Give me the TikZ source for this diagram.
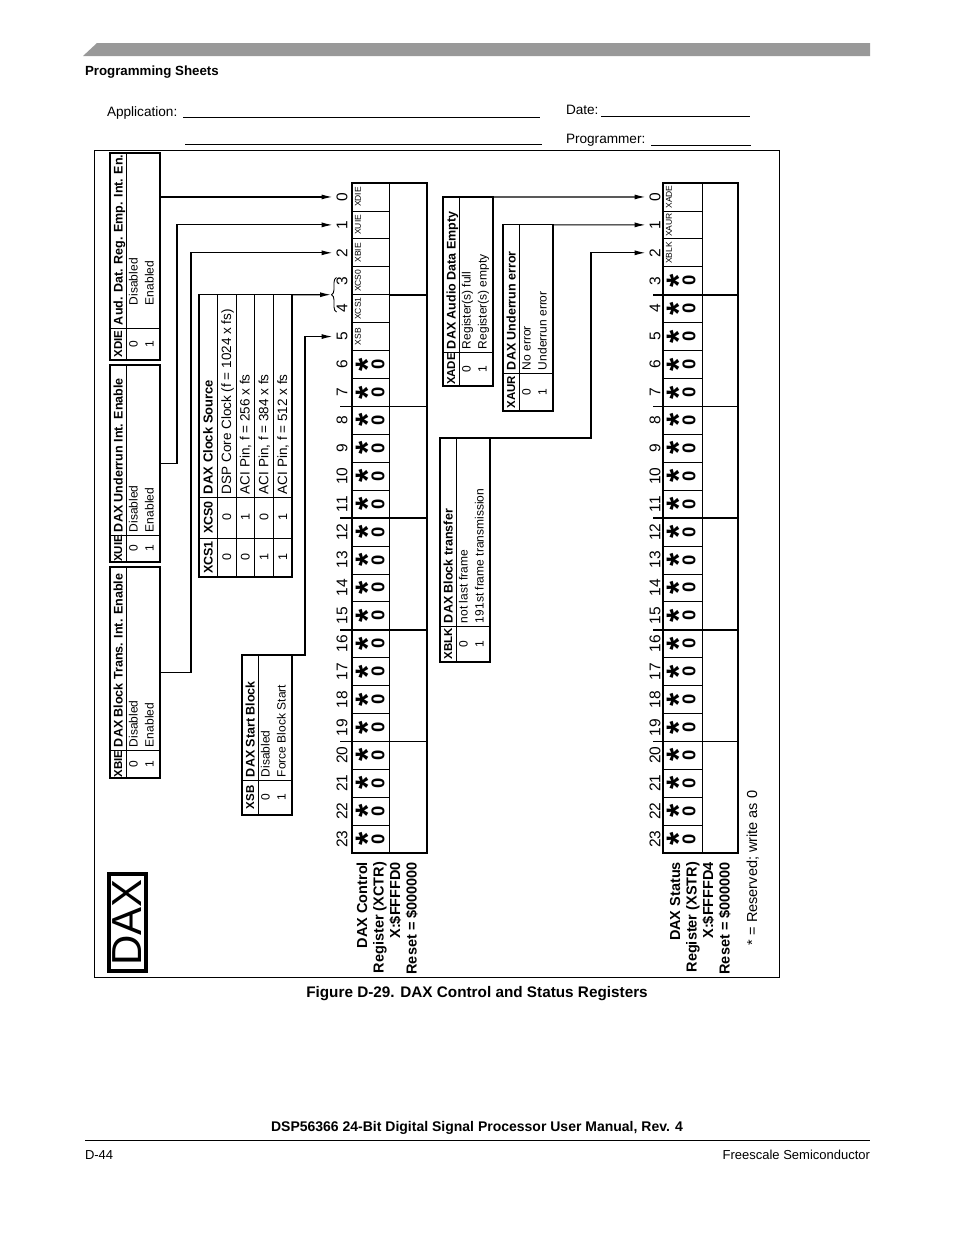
\documentclass[tikz,border=0pt]{standalone}
\usepackage{fontspec}
\setmainfont{Liberation Sans}
\usetikzlibrary{arrows.meta,decorations.pathreplacing}
\definecolor{bargray}{RGB}{153,153,153}
\newcommand{\myfs}[1]{\fontsize{#1}{#1}\selectfont}
\newcommand{\descgap}{3}
\tikzset{
  rt/.style={rotate=90, inner sep=0pt, outer sep=0pt},
  hdr/.style={rt, anchor=base west, font=\bfseries\myfs{12.5}},
  hdrc/.style={rt, anchor=base, font=\bfseries\myfs{11.5}},
  rowt/.style={rt, anchor=base west, font=\myfs{12}},
  rowc/.style={rt, anchor=base, font=\myfs{12}},
  tbl/.style={draw, line width=1.1pt, rectangle, inner sep=0pt, outer sep=0pt},
  tline/.style={line width=0.6pt},
  conn/.style={line width=1.2pt, -{Latex[length=11pt,width=5pt]}},
  bitnum/.style={rt, font=\myfs{15.5}},
  bitlab/.style={rt, font=\myfs{8.5}},
  resstar/.style={rt, anchor=base, font=\bfseries\myfs{34}},
  reszero/.style={rt, font=\bfseries\myfs{18.5}},
  reglab/.style={rt, anchor=base east, font=\bfseries\myfs{14.5}},
  cellline/.style={line width=0.7pt},
  boxline/.style={line width=1.3pt},
  groupline/.style={line width=1.7pt},
  plain/.style={inner sep=0pt, outer sep=0pt},
}
% name, L, T, B, split, bit, title, desc0, desc1
\newcommand{\bittable}[9]{%
  \node[tbl, minimum width=50pt, minimum height={(#4-#3)*1pt}] (#1) at ({#2+25},{(#3+#4)/2}) {};
  \draw[tline] ({#2+16},#3) -- ({#2+16},#4);
  \draw[tline] (#2,#5) -- ({#2+50},#5);
  \node[hdrc] (#1b) at ({#2+12.2},{(#5+#4)/2}) {#6};
  \node[hdr] (#1t) at ({#2+12.5},{#5-3}) {#7};
  \node[rowc] (#1va) at ({#2+27.5},{(#5+#4)/2}) {0};
  \node[rowt] (#1da) at ({#2+27.5},{#5-\descgap}) {#8};
  \node[rowc] (#1vb) at ({#2+43.5},{(#5+#4)/2}) {1};
  \node[rowt] (#1db) at ({#2+43.5},{#5-\descgap}) {#9};
}
\begin{document}
\begin{tikzpicture}[x=1pt,y=-1pt]
\useasboundingbox (0,0) rectangle (954,1235);
\fill[white] (0,0) rectangle (954,1235);

% ---------- page header ----------
\fill[bargray] (83,56) -- (97,43) -- (870,43) -- (870,56) -- cycle;
\node[plain, anchor=base west, font=\bfseries\myfs{13.3}] (ps) at (85,75.5) {Programming Sheets};
\node[plain, anchor=base west, font=\myfs{13.6}] (app) at (107,116) {Application:};
\draw[line width=0.8pt] (183,117.5) -- (540,117.5);
\draw[line width=0.8pt] (185,144.5) -- (542,144.5);
\node[plain, anchor=base west, font=\myfs{13.6}] (date) at (566,114.5) {Date:};
\draw[line width=0.8pt] (601,116.5) -- (750,116.5);
\node[plain, anchor=base west, font=\myfs{13.6}] (prog) at (566,143.5) {Programmer:};
\draw[line width=0.8pt] (651,145.5) -- (751,145.5);

% ---------- frame ----------
\draw[line width=0.8pt] (94,150) rectangle (779,977);

% ---------- DAX label ----------
\node[draw, line width=4pt, rotate=90, minimum width=97pt, minimum height=37pt,
      inner sep=0pt, font=\myfs{42}] (dax) at (127.5,922.5) {DAX};

% ---------- bit tables ----------
\renewcommand{\descgap}{23}
\bittable{xdie}{110}{153}{360}{328}{XDIE}{Aud. Dat. Reg. Emp. Int. En.}{Disabled}{Enabled}
\renewcommand{\descgap}{3}
\bittable{xuie}{110}{365}{562}{535}{XUIE}{DAX Underrun Int. Enable}{Disabled}{Enabled}
\bittable{xbie}{110}{567}{778}{750}{XBIE}{DAX Block Trans. Int. Enable}{Disabled}{Enabled}
\bittable{xsb}{242}{655}{815}{780}{XSB}{DAX Start Block}{Disabled}{Force Block Start}
\bittable{xade}{443}{196.96}{386}{352}{XADE}{DAX Audio Data Empty}{Register(s) full}{Register(s) empty}
\bittable{xaur}{503}{224.88}{411}{373}{XAUR}{DAX Underrun error}{No error}{Underrun error}
\bittable{xblk}{440}{438}{662}{626}{XBLK}{DAX Block transfer}{not last frame}{191st frame transmission}

% ---------- clock source table ----------
\node[tbl, minimum width=93pt, minimum height=282.3pt] (xcs) at (245.5,435.85) {};
\foreach \xx in {217,236,254.5,273} \draw[tline] (\xx,294.7) -- (\xx,577);
\draw[tline] (199,538) -- (292,538);
\draw[tline] (199,497) -- (292,497);
\node[hdrc, font=\bfseries\myfs{12.5}] (xcsh1) at (212.5,557.5) {XCS1};
\node[hdrc, font=\bfseries\myfs{12.5}] (xcsh0) at (212.5,517.5) {XCS0};
\node[hdr, font=\bfseries\myfs{13}] (xcst) at (212.5,494) {DAX Clock Source};
\foreach \r/\ra/\rb/\d in {0/0/0/{DSP Core Clock (f = 1024 x fs)},1/0/1/{ACI Pin, f = 256 x fs},2/1/0/{ACI Pin, f = 384 x fs},3/1/1/{ACI Pin, f = 512 x fs}}{
  \pgfmathsetmacro{\bx}{231+\r*18.7}
  \node[rowc, font=\myfs{12.5}] (xcsa\r) at (\bx,557.5) {\ra};
  \node[rowc, font=\myfs{12.5}] (xcsb\r) at (\bx,517.5) {\rb};
  \node[rowt, font=\myfs{13.5}] (xcsd\r) at (\bx,494) {\d};
}

% ---------- registers ----------
\foreach \i in {0,...,23}{
  \pgfmathsetmacro{\cy}{183+(\i+0.5)*27.92}
  \node[bitnum] (c\i) at (342,\cy) {\i};
  \node[bitnum] (s\i) at (655,\cy) {\i};
}
% control register box
\draw[boxline] (352,183) rectangle (427,853);
\draw[cellline] (389,183) -- (389,853);
\foreach \i in {1,...,23} \draw[cellline] (352,{183+\i*27.92}) -- (389,{183+\i*27.92});
\draw[groupline] (389,{183+4*27.92}) -- (427,{183+4*27.92});
\foreach \g in {8,12,16,20} \draw[groupline] (340,{183+\g*27.92}) -- (427,{183+\g*27.92});
\draw[groupline] (352,853) -- (427,853);
\foreach \i/\t in {0/XDIE,1/XUIE,2/XBIE,3/XCS0,4/XCS1,5/XSB}{
  \pgfmathsetmacro{\cy}{183+(\i+0.5)*27.92}
  \node[bitlab] (cl\i) at (358,\cy) {\t};
}
\foreach \i in {6,...,23}{
  \pgfmathsetmacro{\cy}{183+(\i+0.5)*27.92}
  \node[resstar] (ca\i) at (379.5,\cy) {*};
  \node[reszero] (cz\i) at (378,\cy) {0};
}
% status register box
\draw[boxline] (663,183) rectangle (738,853);
\draw[cellline] (702,183) -- (702,853);
\foreach \i in {1,...,23} \draw[cellline] (663,{183+\i*27.92}) -- (702,{183+\i*27.92});
\foreach \g in {4,8,12,16,20} \draw[groupline] (653,{183+\g*27.92}) -- (738,{183+\g*27.92});
\draw[groupline] (663,853) -- (738,853);
\foreach \i/\t in {0/XADE,1/XAUR,2/XBLK}{
  \pgfmathsetmacro{\cy}{183+(\i+0.5)*27.92}
  \node[bitlab] (sl\i) at (669,\cy) {\t};
}
\foreach \i in {3,...,23}{
  \pgfmathsetmacro{\cy}{183+(\i+0.5)*27.92}
  \node[resstar] (sa\i) at (690.5,\cy) {*};
  \node[reszero] (sz\i) at (689,\cy) {0};
}

% register labels
\node[reglab] (xl1) at (367,862) {DAX Control};
\node[reglab] (xl2) at (383.5,862) {Register (XCTR)};
\node[reglab] (xl3) at (400,862) {X:\$FFFFD0};
\node[reglab] (xl4) at (416.5,862) {Reset = \$000000};
\node[reglab] (sl1x) at (680,862) {DAX Status};
\node[reglab] (sl2x) at (696.5,862) {Register (XSTR)};
\node[reglab] (sl3x) at (713,862) {X:\$FFFFD4};
\node[reglab] (sl4x) at (729.5,862) {Reset = \$000000};
\node[rt, anchor=base west, font=\myfs{14.5}] (note) at (757,945) {* = Reserved; write as 0};

% ---------- connectors ----------
\coordinate (k1) at (177,224);
\coordinate (k2) at (191,252);
\coordinate (k5) at (305,336);
\coordinate (k6) at (591,252);
\coordinate (brtip) at (331,294.7);
\draw[conn] (xdie.east |- c0) -- ([xshift=-4pt]c0.north);
\draw[conn] (xuie.east) -- (k1 |- xuie.east) -- (k1 |- c1) -- ([xshift=-4pt]c1.north);
\draw[conn] (xbie.east) -- (k2 |- xbie.east) -- (k2 |- c2) -- ([xshift=-4pt]c2.north);
\draw[conn] (xcs.north east) -- (brtip);
\draw[line width=0.9pt, decorate, decoration={brace, amplitude=5pt}] (336.5,312) -- (336.5,277.5);
\draw[conn] (xsb.north east) -- (k5 |- xsb.north east) -- (k5 |- c5) -- ([xshift=-4pt]c5.north);
\draw[conn] (xade.north east) -- ([xshift=-4pt]s0.north);
\draw[conn] (xaur.north east) -- ([xshift=-4pt]s1.north);
\draw[conn] (xblk.north east) -- (k6 |- xblk.north east) -- (k6 |- s2) -- ([xshift=-4pt]s2.north);

% ---------- caption and footer ----------
\node[plain, anchor=base, font=\bfseries\myfs{15.3}] (cap) at (477,997.5) {Figure D-29. DAX Control and Status Registers};
\node[plain, anchor=base, font=\bfseries\myfs{14}] (ft) at (477,1131) {DSP56366 24-Bit Digital Signal Processor User Manual, Rev. 4};
\draw[line width=0.8pt] (85,1140) -- (870,1140);
\node[plain, anchor=base west, font=\myfs{13}] (pg) at (85,1159) {D-44};
\node[plain, anchor=base east, font=\myfs{13}] (fsc) at (870,1159) {Freescale Semiconductor};
\end{tikzpicture}
\end{document}
